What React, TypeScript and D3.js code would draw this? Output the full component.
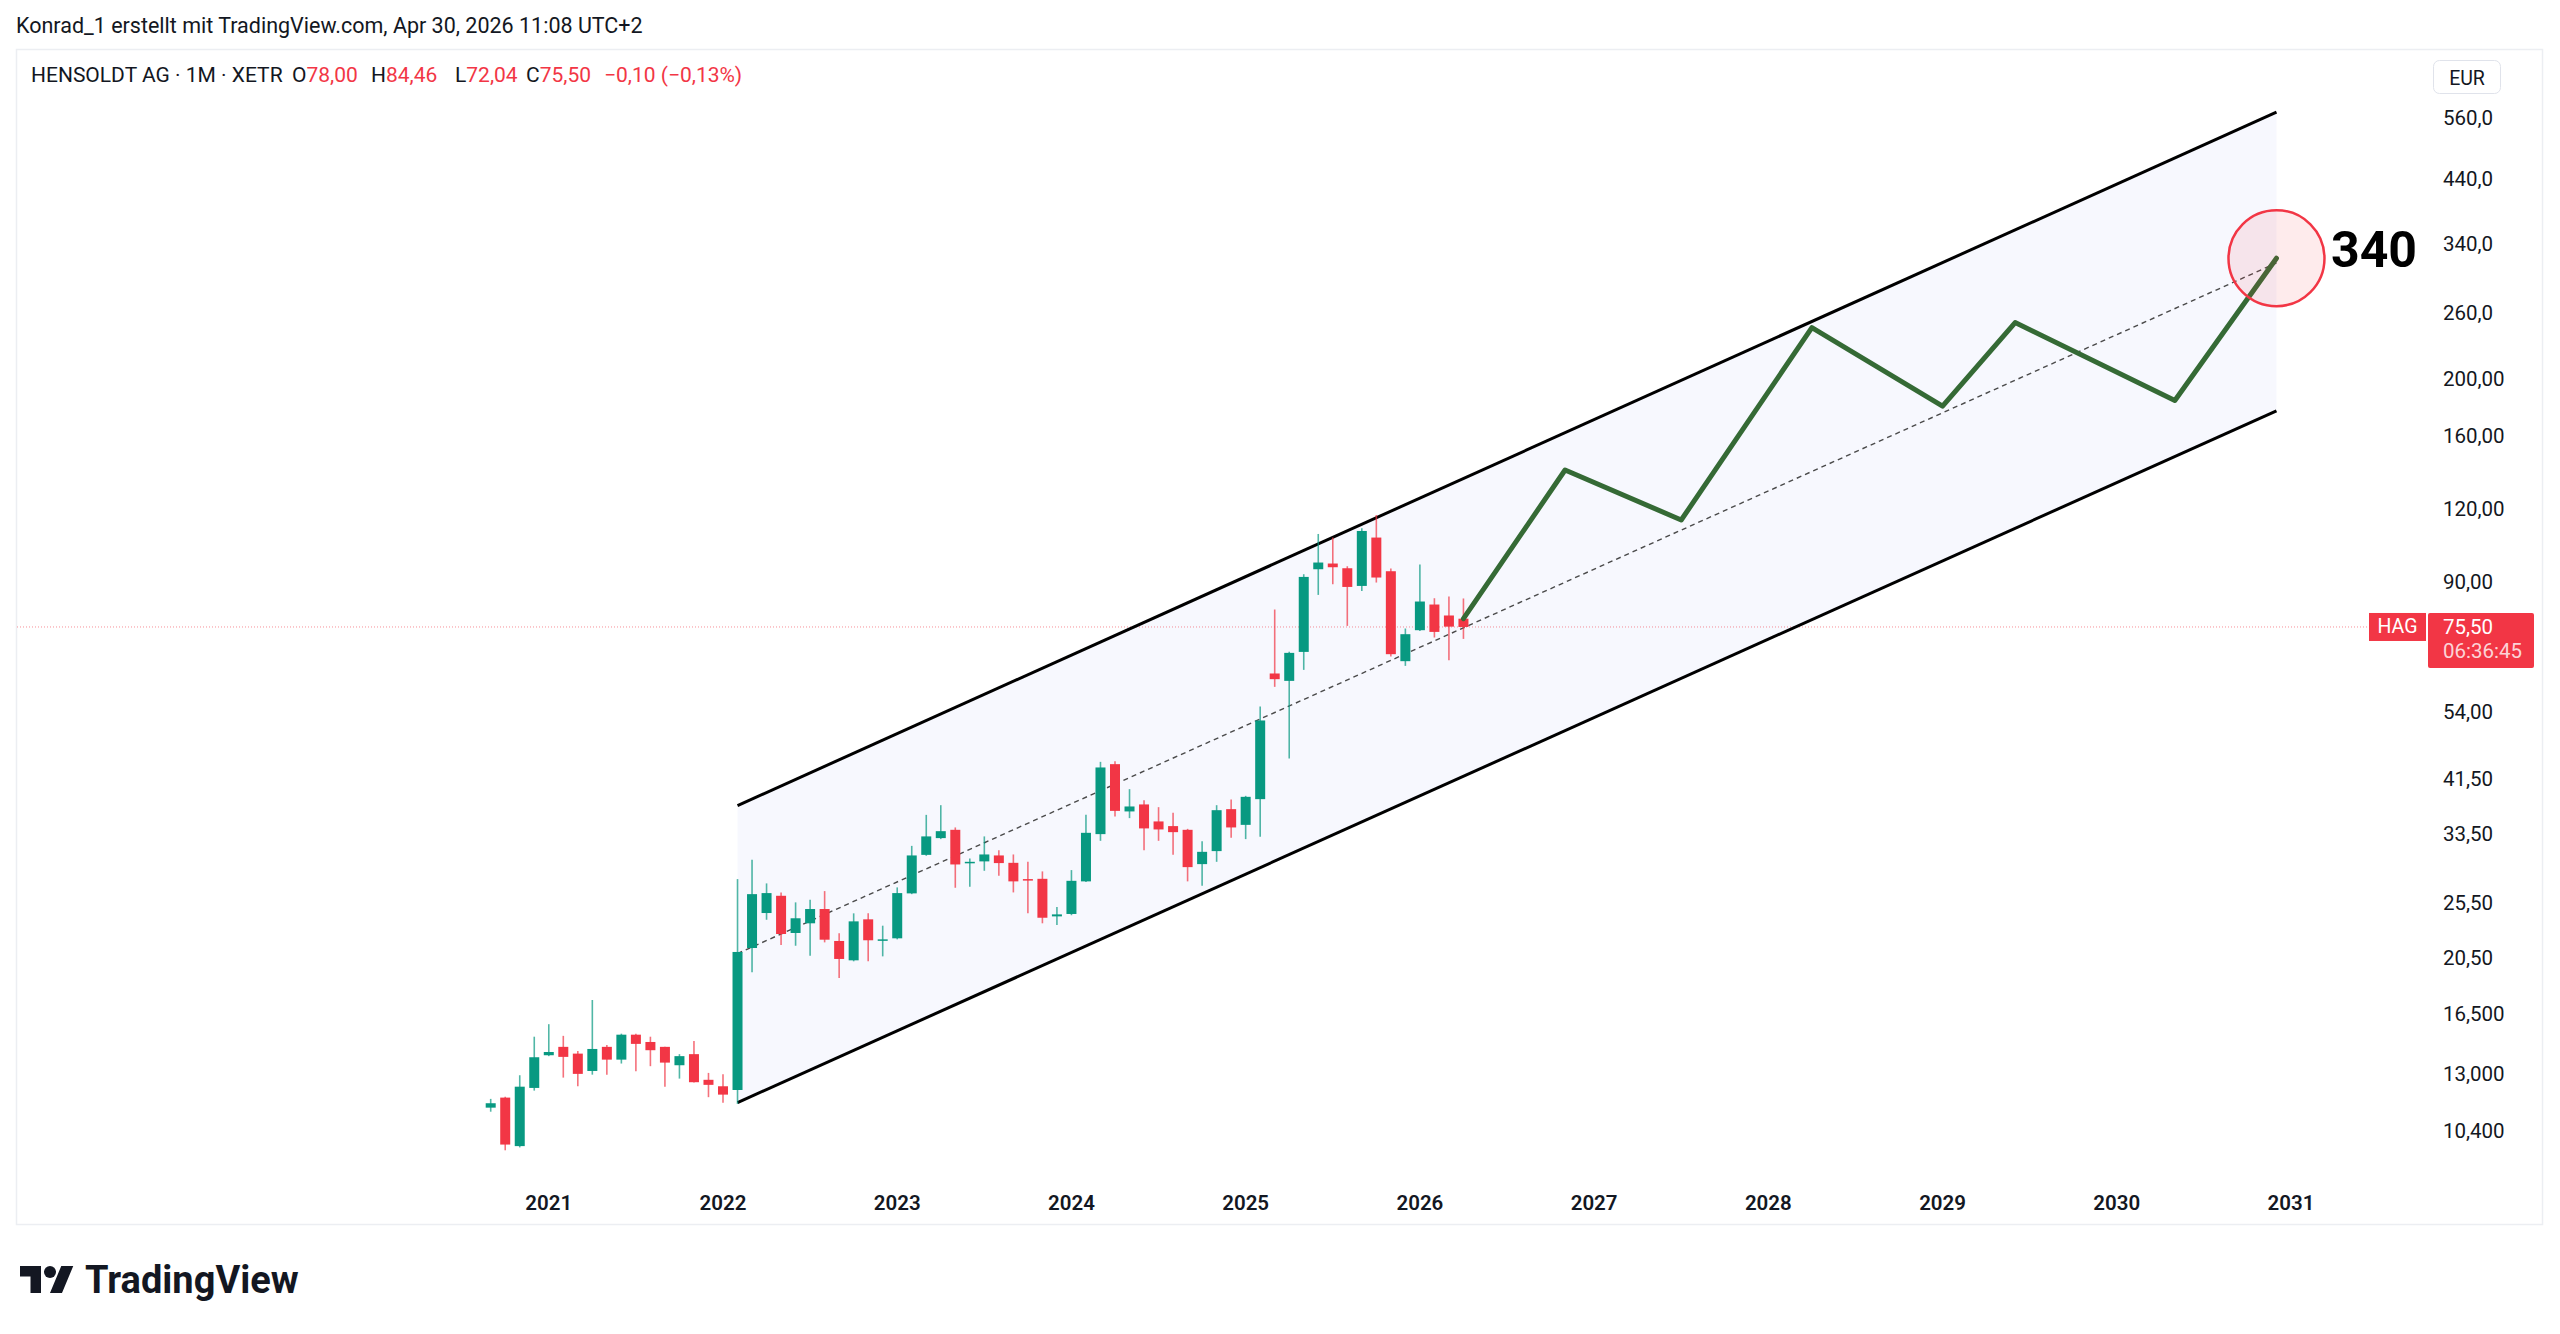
import React from 'react';
import * as d3 from 'd3';

// monthly candles, HENSOLDT AG (XETR)
const candleMonths = [
  '2020-09', '2020-10', '2020-11', '2020-12',
  '2021-01', '2021-02', '2021-03', '2021-04', '2021-05', '2021-06', '2021-07', '2021-08', '2021-09', '2021-10', '2021-11', '2021-12',
  '2022-01', '2022-02', '2022-03', '2022-04', '2022-05', '2022-06', '2022-07', '2022-08', '2022-09', '2022-10', '2022-11', '2022-12',
  '2023-01', '2023-02', '2023-03', '2023-04', '2023-05', '2023-06', '2023-07', '2023-08', '2023-09', '2023-10', '2023-11', '2023-12',
  '2024-01', '2024-02', '2024-03', '2024-04', '2024-05', '2024-06', '2024-07', '2024-08', '2024-09', '2024-10', '2024-11', '2024-12',
  '2025-01', '2025-02', '2025-03', '2025-04', '2025-05', '2025-06', '2025-07', '2025-08', '2025-09', '2025-10', '2025-11', '2025-12',
  '2026-01', '2026-02', '2026-03', '2026-04',
]
const opens = [
  11.40, 11.86, 9.80, 12.32,
  14.01, 14.48, 14.10, 13.17, 14.48, 13.77, 15.19, 14.76, 14.48, 13.47, 14.07, 12.72,
  12.40, 12.22, 21.36, 24.51, 26.23, 22.66, 23.54, 24.90, 21.96, 20.35, 23.91, 22.02,
  22.19, 26.48, 30.81, 32.91, 34.00, 29.91, 30.03, 30.74, 29.86, 28.01, 28.04, 24.19,
  24.42, 27.76, 33.43, 44.02, 36.55, 37.57, 35.14, 34.50, 34.00, 29.71, 31.27, 36.88,
  34.67, 38.36, 62.88, 61.08, 68.45, 94.75, 96.90, 95.12, 88.73, 107.32, 94.01, 66.00,
  74.55, 82.47, 78.99, 78.00,
]
const highs = [
  11.80, 11.90, 12.95, 15.07,
  15.83, 15.12, 14.25, 17.41, 14.59, 15.25, 15.25, 15.07, 14.48, 14.07, 14.82, 13.07,
  13.00, 28.01, 30.21, 27.54, 26.58, 25.56, 25.83, 26.72, 22.63, 24.48, 24.48, 23.32,
  27.11, 31.92, 36.06, 37.46, 34.32, 30.38, 33.13, 31.39, 30.86, 29.98, 28.87, 25.10,
  29.02, 36.06, 44.42, 44.54, 39.90, 38.21, 37.17, 36.35, 34.13, 32.52, 37.46, 38.31,
  38.86, 55.22, 80.87, 68.50, 92.91, 108.85, 107.32, 95.87, 111.32, 117.29, 95.01, 75.05,
  96.52, 84.54, 85.11, 84.46,
]
const lows = [
  11.22, 9.64, 9.75, 12.19,
  13.96, 12.83, 12.40, 12.98, 12.97, 13.56, 13.16, 13.42, 12.38, 12.78, 12.58, 11.88,
  11.62, 11.57, 19.41, 23.87, 21.61, 21.55, 20.72, 21.84, 18.98, 20.27, 20.27, 20.67,
  22.10, 26.40, 30.70, 32.78, 27.07, 27.17, 28.94, 28.37, 26.58, 24.48, 23.54, 23.38,
  24.30, 27.70, 32.56, 35.84, 35.60, 31.39, 32.56, 30.81, 27.76, 27.28, 29.98, 32.94,
  32.78, 33.07, 59.66, 45.01, 63.78, 85.65, 89.32, 75.82, 87.00, 89.92, 67.23, 64.79,
  74.35, 72.44, 66.26, 72.04,
]
const closes = [
  11.60, 9.86, 12.38, 13.90,
  14.19, 13.92, 13.02, 14.36, 13.77, 15.19, 14.65, 14.29, 13.61, 13.96, 12.60, 12.47,
  12.00, 21.03, 26.40, 26.51, 22.57, 24.01, 24.90, 22.07, 20.46, 23.72, 22.02, 22.10,
  26.51, 30.74, 33.13, 33.82, 29.67, 29.98, 30.86, 29.83, 27.76, 27.90, 24.06, 24.38,
  27.82, 33.60, 43.45, 36.63, 37.27, 34.19, 34.05, 33.69, 29.36, 31.18, 36.73, 34.32,
  38.71, 52.27, 61.49, 68.19, 91.93, 97.28, 95.50, 88.38, 110.14, 91.71, 67.84, 73.39,
  83.45, 74.05, 75.60, 75.50,
]

// price scale ticks as TradingView printed them
const yTickValues = [560, 440, 340, 260, 200, 160, 120, 90, 54, 41.5, 33.5, 25.5, 20.5, 16.5, 13, 10.4]
const yTickLabels = ['560,0', '440,0', '340,0', '260,0', '200,00', '160,00', '120,00', '90,00', '54,00', '41,50', '33,50', '25,50', '20,50', '16,500', '13,000', '10,400']
const yearLabels = ['2021', '2022', '2023', '2024', '2025', '2026', '2027', '2028', '2029', '2030', '2031']

// drawings: parallel channel, its median, projected path, target
const channelMonths = ['2022-02', '2030-12']
const channelUpper = [37.4, 572]
const channelLower = [11.63, 176.7]
const channelMid = [20.9, 316]

const projectionMonths = ['2026-04', '2026-11', '2027-07', '2028-04', '2029-01', '2029-06', '2030-05', '2030-12']
const projectionPrices = [78, 140, 115, 245, 180, 250, 184, 322]

const targetMonth = '2030-12'
const targetPrice = 322
const targetLabel = '340'

const GREEN = '#089981'
const RED = '#f23645'
const TEXT = '#131722'
const FONT = "'Trebuchet MS', Roboto, 'Noto Sans', sans-serif"

const monthIndex = (s: string) => {
  const [y, m] = s.split('-').map(Number)
  return (y - 2020) * 12 + (m - 1)
}

const fmt = (v: number) => d3.format('.2f')(Math.abs(v)).replace('.', ',')

export default function App() {
  const width = 2560
  const height = 1334

  const x = d3.scaleLinear()
    .domain([monthIndex('2022-01'), monthIndex('2031-01')])
    .range([723, 2291])

  const y = d3.scaleLog()
    .domain([10.4, 560])
    .range([1131, 117.5])

  const n = closes.length
  const last = n - 1
  const change = closes[last] - closes[last - 1]
  const changePct = change / closes[last - 1] * 100
  const sign = change < 0 ? '−' : '+'
  const yLast = y(closes[last])

  const line = d3.line<[string, number]>()
    .x(d => x(monthIndex(d[0])))
    .y(d => y(d[1]))

  const upper: [string, number][] = channelMonths.map((m, i) => [m, channelUpper[i]])
  const lower: [string, number][] = channelMonths.map((m, i) => [m, channelLower[i]])
  const mid: [string, number][] = channelMonths.map((m, i) => [m, channelMid[i]])
  const fillPts = [...upper, ...lower.slice().reverse()]
  const proj: [string, number][] = projectionMonths.map((m, i) => [m, projectionPrices[i]])

  const barW = 10

  return (
    <svg width={width} height={height} style={{ position: 'absolute', left: 0, top: 0, background: '#fff' }}
      fontFamily={FONT}>
      <rect x={0} y={0} width={width} height={height} fill="#fff" />

      {/* snapshot header */}
      <text x={16} y={33} fontSize={21.5} fill={TEXT}>Konrad_1 erstellt mit TradingView.com, Apr 30, 2026 11:08 UTC+2</text>

      {/* pane border */}
      <rect x={16.5} y={49.5} width={2526} height={1175} fill="none" stroke="#eceef2" strokeWidth={1.5} />

      {/* legend */}
      <g fontSize={21} fill={TEXT}>
        <text x={31} y={82}>HENSOLDT AG · 1M · XETR</text>
        <text x={292} y={82}>O<tspan fill={RED}>{fmt(opens[last])}</tspan></text>
        <text x={371} y={82}>H<tspan fill={RED}>{fmt(highs[last])}</tspan></text>
        <text x={455} y={82}>L<tspan fill={RED}>{fmt(lows[last])}</tspan></text>
        <text x={526} y={82}>C<tspan fill={RED}>{fmt(closes[last])}</tspan></text>
        <text x={604} y={82} fill={RED}>{`${sign}${fmt(change)} (${sign}${fmt(changePct)}%)`}</text>
      </g>

      {/* channel */}
      <path d={line(fillPts) + 'Z'} fill="#f7f8fe" stroke="none" />

      {/* last price line */}
      <line x1={17} x2={2369} y1={yLast} y2={yLast} stroke={RED} strokeWidth={1} strokeDasharray="1 2" opacity={0.55} />

      <path d={line(mid) ?? ''} fill="none" stroke="#4a4a4a" strokeWidth={1.4} strokeDasharray="5 4" />
      <path d={line(upper) ?? ''} fill="none" stroke="#000" strokeWidth={3} />
      <path d={line(lower) ?? ''} fill="none" stroke="#000" strokeWidth={3} />

      {/* candles */}
      {candleMonths.map((m, i) => {
        const cx = x(monthIndex(m))
        const o = opens[i], c = closes[i]
        const col = c >= o ? GREEN : RED
        const top = y(Math.max(o, c))
        const bot = y(Math.min(o, c))
        return (
          <g key={m}>
            <line x1={cx} x2={cx} y1={y(highs[i])} y2={y(lows[i])} stroke={col} strokeWidth={1.6} opacity={0.7} />
            <rect x={cx - barW / 2} y={top} width={barW} height={Math.max(1.5, bot - top)} fill={col} />
          </g>
        )
      })}

      {/* projected path */}
      <path d={line(proj) ?? ''} fill="none" stroke="#356a35" strokeWidth={5} strokeLinejoin="round" strokeLinecap="round" />

      {/* target */}
      <circle cx={x(monthIndex(targetMonth))} cy={y(targetPrice)} r={48} fill="rgba(242,54,69,0.1)" stroke={RED} strokeWidth={2.5} />
      <text x={2331} y={267} fontSize={50} fontWeight={700} fill="#000">{targetLabel}</text>

      {/* price scale */}
      <rect x={2433.5} y={60.5} width={67} height={33} rx={6} fill="#fff" stroke="#e0e3eb" />
      <text x={2467} y={78} fontSize={19.5} textAnchor="middle" dominantBaseline="central" fill={TEXT}>EUR</text>
      {yTickValues.map((v, i) => (
        <text key={v} x={2443} y={y(v)} fontSize={20.5} dominantBaseline="central" fill={TEXT}>{yTickLabels[i]}</text>
      ))}

      {/* last price labels */}
      <rect x={2369} y={yLast - 14} width={57} height={28} fill={RED} />
      <text x={2397.5} y={yLast} fontSize={19.5} textAnchor="middle" dominantBaseline="central" fill="#fff">HAG</text>
      <rect x={2428} y={yLast - 14} width={106} height={55} rx={2} fill={RED} />
      <text x={2443} y={yLast} fontSize={20.5} dominantBaseline="central" fill="#fff">{fmt(closes[last])}</text>
      <text x={2443} y={yLast + 24} fontSize={20.5} dominantBaseline="central" fill="rgba(255,255,255,0.8)">06:36:45</text>

      {/* time scale */}
      {yearLabels.map(yr => (
        <text key={yr} x={x(monthIndex(yr + '-01'))} y={1203} fontSize={20.5} fontWeight={600} textAnchor="middle"
          dominantBaseline="central" fill={TEXT}>{yr}</text>
      ))}

      {/* logo */}
      <g transform="translate(20,1260) scale(1.5)" fill={TEXT}>
        <path d="M14 22H7V11H0V4h14v18zM28 22h-8l7.5-18h8L28 22z" />
        <circle cx={20} cy={8} r={4} />
      </g>
      <text x={85} y={1293} fontSize={38} fontWeight={700} fill={TEXT}>TradingView</text>
    </svg>
  )
}
